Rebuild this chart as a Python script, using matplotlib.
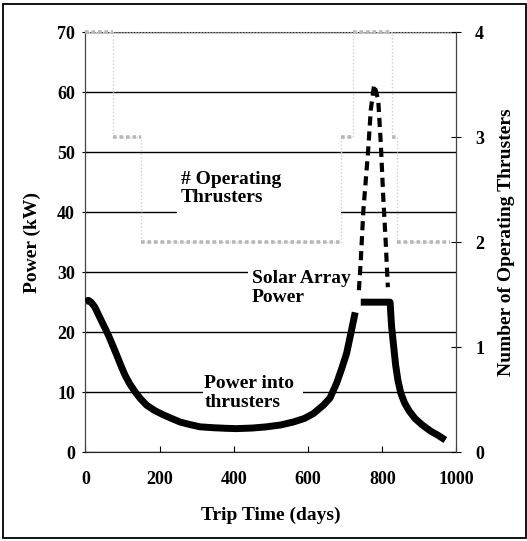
import numpy as np
import matplotlib.pyplot as plt
from matplotlib.patches import Rectangle

plt.rcParams['font.family'] = ['Liberation Serif', 'DejaVu Serif']
plt.rcParams['font.weight'] = 'bold'

# Power into thrusters (kW), before the solar array cap kicks in
power_days = [0, 8, 15, 25, 39, 50, 61, 72, 84, 95, 106, 119, 133, 148, 165, 187, 210, 232, 255,
              280, 309, 345, 380, 407, 450, 488, 525, 560, 590, 614, 641, 659, 677, 690, 704, 717, 727]
power_kw = [25.1, 25.3, 25.0, 24.2, 22.4, 21.0, 19.6, 18.0, 16.2, 14.5, 12.9, 11.4, 10.1, 8.9, 7.8,
            6.9, 6.2, 5.6, 5.0, 4.6, 4.2, 4.05, 3.95, 3.9, 4.0, 4.2, 4.5, 5.0, 5.6, 6.4, 7.8, 9.0,
            11.5, 13.8, 16.5, 20.3, 23.3]

# Power into thrusters while capped, then falling off again
capped_days = [742, 821, 825, 830, 836, 842, 850, 860, 872, 888, 908, 930, 950, 970]
capped_kw = [25.0, 25.0, 21.0, 18.0, 14.5, 12.0, 9.8, 8.2, 6.9, 5.6, 4.5, 3.5, 2.8, 2.0]

# Solar array power around perihelion (dashed)
solar_days = [737, 742, 749, 762, 769, 778, 789, 796, 803, 809, 815]
solar_kw = [27.0, 31.9, 40.3, 50.4, 57.1, 61.3, 58.8, 51.5, 42.0, 35.3, 27.5]

# Number of operating thrusters (step line, right axis)
thr_days = [0, 75, 150, 690, 720, 825, 840, 982]
thr_count = [4, 3, 2, 3, 4, 3, 2, 2]

fig = plt.figure(figsize=(5.27, 5.41), dpi=100)
ax = fig.add_axes([0.1622, 0.1645, 0.7040, 0.7755])

# Grid lines first, white boxes behind the labels cut them
ax.set_axisbelow(True)
ax.yaxis.grid(True, color='black', linewidth=1.0)
ax.add_patch(Rectangle((246, 38), 444, 9.5, facecolor='white', edgecolor='none', zorder=1))
ax.add_patch(Rectangle((439, 27.5), 300, 4, facecolor='white', edgecolor='none', zorder=1))
ax.add_patch(Rectangle((316, 8), 271, 4.5, facecolor='white', edgecolor='none', zorder=1))

ax.plot(power_days, power_kw, color='black', linewidth=5, solid_capstyle='butt', zorder=3)
ax.plot(capped_days, capped_kw, color='black', linewidth=5, solid_capstyle='butt', zorder=3)
ax.plot(solar_days, solar_kw, color='black', linewidth=3.0, linestyle=(0, (2.2, 1.4)),
        dash_capstyle='butt', zorder=3)

ax.text(257, 46.9, '# Operating\nThrusters', fontsize=14, fontweight='bold', va='top', ha='left',
        linespacing=1.12, zorder=4)
ax.text(448, 30.3, 'Solar Array\nPower', fontsize=14, fontweight='bold', va='top', ha='left',
        linespacing=1.12, zorder=4)
ax.text(320, 12.8, 'Power into\nthrusters', fontsize=14, fontweight='bold', va='top', ha='left',
        linespacing=1.12, zorder=4)

ax.set_xlim(0, 1000)
ax.set_ylim(0, 70)
ax.set_xticks([0, 200, 400, 600, 800, 1000])
ax.set_yticks([0, 10, 20, 30, 40, 50, 60, 70])
ax.tick_params(axis='x', direction='in', length=4, pad=14, labelsize=13, colors='black')
ax.tick_params(axis='y', direction='inout', length=5, pad=5, labelsize=13)
ax.set_xlabel('Trip Time (days)', fontsize=14, fontweight='bold')
ax.set_ylabel('Power (kW)', fontsize=14, fontweight='bold')
ax.xaxis.set_label_coords(0.5, -0.13)
ax.yaxis.set_label_coords(-0.12, 0.5)

ax.spines['top'].set_linestyle(':')
ax.spines['top'].set_color('#888888')
ax.spines['left'].set_color('#444444')
ax.spines['left'].set_linewidth(0.9)
ax.spines['bottom'].set_color('#222222')
ax.spines['right'].set_visible(False)

# Second y-axis for the thruster count: faint risers, halftone-grey levels
ax2 = ax.twinx()
ax2.plot(thr_days, thr_count, drawstyle='steps-post', color='#d0d0d0', linewidth=1,
         linestyle=(0, (1, 1.5)))
ax2.hlines(thr_count[:-1], thr_days[:-1], thr_days[1:], color='#b8b8b8', linewidth=2.6,
           linestyle=(0, (1, 0.8)), clip_on=False)
ax2.set_ylim(0, 4)
ax2.set_yticks([0, 1, 2, 3, 4])
ax2.tick_params(axis='y', direction='inout', length=7, pad=10, labelsize=13)
ax2.set_ylabel('Number of Operating Thrusters', fontsize=14, fontweight='bold')
ax2.yaxis.set_label_coords(1.112, 0.5)
for side in ['top', 'left', 'bottom']:
    ax2.spines[side].set_visible(False)
ax2.spines['right'].set_color('#444444')
ax2.spines['right'].set_linewidth(0.9)

# Frame around the whole figure
fig.patches.append(Rectangle((0.006, 0.006), 0.992, 0.986, transform=fig.transFigure,
                             fill=False, edgecolor='black', linewidth=1.3))

fig.savefig('out.png', dpi=100)
